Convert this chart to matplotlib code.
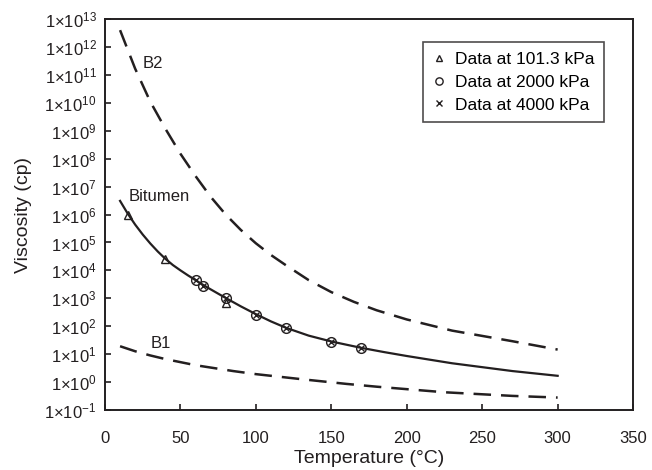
import matplotlib
matplotlib.use('Agg')
import matplotlib.pyplot as plt
from matplotlib.ticker import FixedLocator, FuncFormatter
import numpy as np

plt.rcParams['font.family'] = ['Liberation Sans', 'DejaVu Sans']
plt.rcParams['mathtext.fontset'] = 'custom'
plt.rcParams['mathtext.rm'] = 'Liberation Sans'
plt.rcParams['mathtext.it'] = 'Liberation Sans'

INK = '#231f20'

# curves (temperature in degC, log10 of viscosity in cp)
bit_t = [10, 15, 20, 25, 30, 35, 40, 45, 50, 55, 60, 65, 70, 80, 90, 100,
         110, 120, 135, 150, 170, 185, 200, 230, 270, 300]
bit_log = [6.49, 6.04, 5.64, 5.285, 4.965, 4.675, 4.415, 4.19, 4.00, 3.82,
           3.65, 3.48, 3.32, 3.01, 2.71, 2.43, 2.17, 1.94, 1.66, 1.45, 1.22,
           1.07, 0.93, 0.67, 0.39, 0.22]

b2_t = [10, 20, 30, 40, 50, 60, 70, 80, 90, 100, 110, 120, 135, 150, 165,
        180, 200, 230, 270, 300]
b2_log = [12.61, 11.23, 10.05, 9.08, 8.18, 7.38, 6.64, 6.00, 5.45, 4.97,
          4.55, 4.18, 3.65, 3.22, 2.87, 2.57, 2.24, 1.84, 1.46, 1.16]

b1_t = [10, 20, 30, 40, 60, 85, 100, 130, 160, 180, 225, 270, 300]
b1_log = [1.28, 1.10, 0.95, 0.82, 0.60, 0.39, 0.28, 0.10, -0.07, -0.17, -0.37, -0.50, -0.56]

# measured points
p1_t = [15, 40, 80]
p1_v = [1.0e6, 2.5e4, 6.9e2]
p2_t = [60, 65, 80, 100, 120, 150, 170]
p2_v = [4.6e3, 2.8e3, 1.05e3, 2.5e2, 8.5e1, 2.8e1, 1.65e1]
p3_t = [60, 65, 80, 100, 120, 150, 170]
p3_v = [4.6e3, 2.8e3, 1.05e3, 2.5e2, 8.5e1, 2.8e1, 1.65e1]

fig = plt.figure(figsize=(6.52, 4.70), dpi=100)
ax = fig.add_axes([0.161, 0.128, 0.81, 0.831])

ax.plot(bit_t, 10.0 ** np.array(bit_log), '-', color=INK, lw=1.6)
ax.plot(b2_t, 10.0 ** np.array(b2_log), color=INK, lw=1.8, dashes=(7, 4))
ax.plot(b1_t, 10.0 ** np.array(b1_log), color=INK, lw=1.8, dashes=(7, 4))

ax.plot(p1_t, p1_v, '^', ms=6, mfc='none', mec=INK, mew=1.0, ls='none',
        label='Data at 101.3 kPa')
ax.plot(p2_t, p2_v, 'o', ms=7, mfc='none', mec=INK, mew=1.0, ls='none',
        label='Data at 2000 kPa')
ax.plot(p3_t, p3_v, 'x', ms=5, mec=INK, mew=1.0, ls='none',
        label='Data at 4000 kPa')

ax.text(25, 10 ** 11.42, 'B2', fontsize=12, color=INK, va='center')
ax.text(15.5, 10 ** 6.64, 'Bitumen', fontsize=12, color=INK, va='center')
ax.text(30, 10 ** 1.39, 'B1', fontsize=12, color=INK, va='center')

ax.set_yscale('log')
ax.set_xlim(0, 350)
ax.set_ylim(1e-1, 1e13)
ax.set_xticks(range(0, 351, 50))
ax.yaxis.set_major_locator(FixedLocator([10.0 ** k for k in range(-1, 14)]))
ax.yaxis.set_minor_locator(FixedLocator([]))


def fmt(v, pos):
    k = int(round(np.log10(v)))
    s = str(k).replace('-', '\u2212')
    return '1\u00d710$^{%s}$' % s


ax.yaxis.set_major_formatter(FuncFormatter(fmt))
ax.tick_params(direction='in', length=4, width=1.2, labelsize=12, colors=INK,
               top=False, right=False)
ax.tick_params(axis='x', pad=15)
ax.tick_params(axis='y', pad=6)
for sp in ax.spines.values():
    sp.set_linewidth(1.4)
    sp.set_color(INK)

ax.set_xlabel('Temperature (\u00b0C)', fontsize=14, color=INK, labelpad=3)
ax.set_ylabel('Viscosity (cp)', fontsize=14, color=INK, labelpad=9)

leg = ax.legend(loc='upper right', bbox_to_anchor=(0.945, 0.942), fontsize=12.5,
                frameon=True, fancybox=False, handlelength=0.7, markerscale=0.75,
                handletextpad=0.6, borderpad=0.55, labelspacing=0.45,
                borderaxespad=0)
leg.get_frame().set_edgecolor(INK)
leg.get_frame().set_linewidth(1.2)

fig.savefig('out.png', dpi=100)
